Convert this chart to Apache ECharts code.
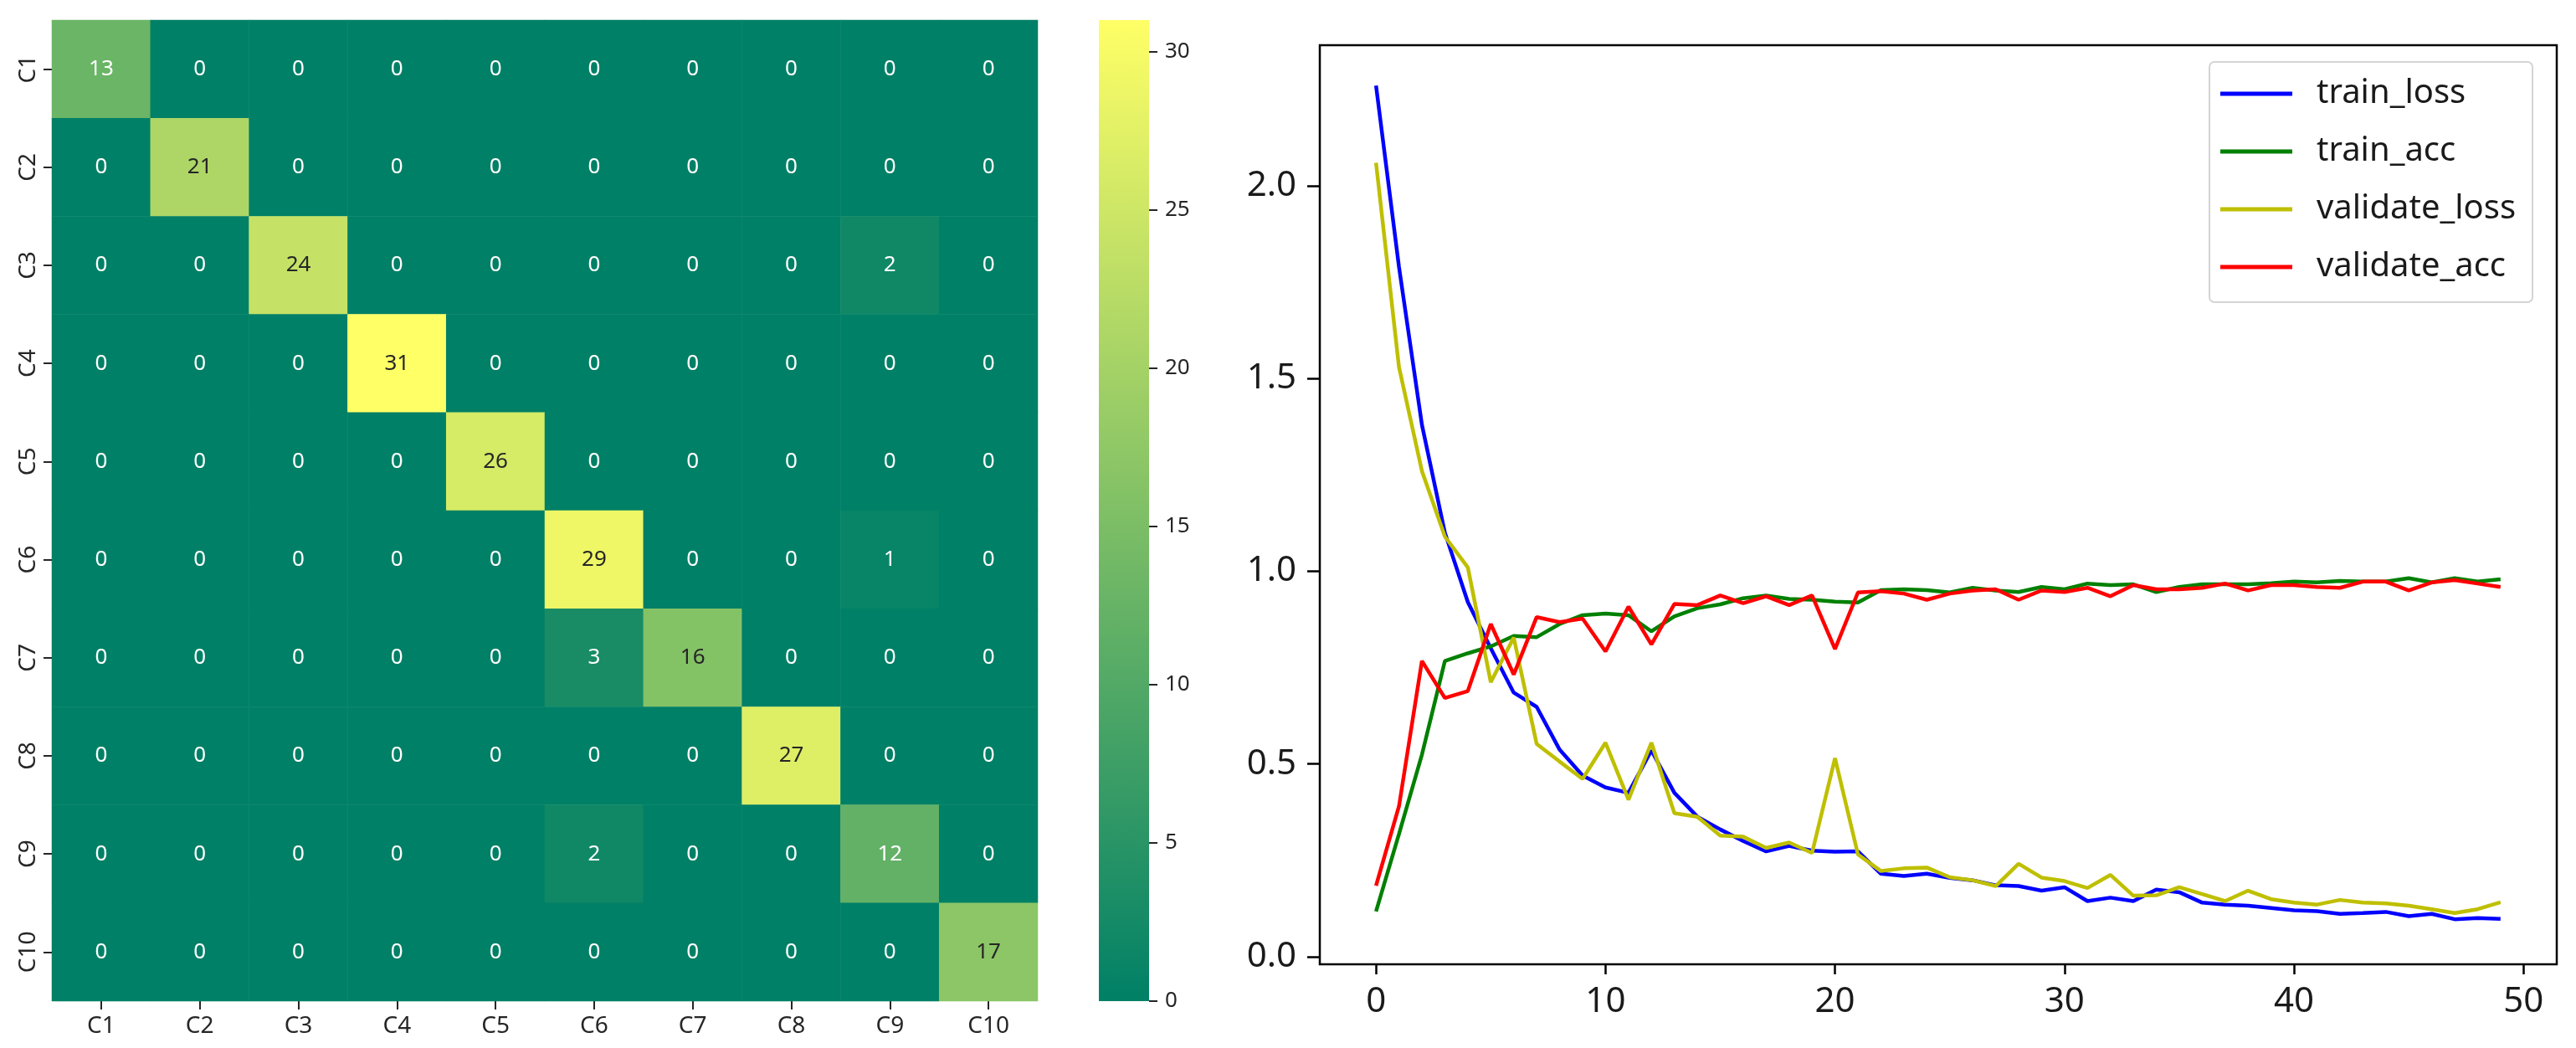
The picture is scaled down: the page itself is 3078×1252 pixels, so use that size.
<!DOCTYPE html>
<html>
<head>
<meta charset="utf-8">
<script src="https://cdn.jsdelivr.net/npm/echarts@6/dist/echarts.min.js"></script>
<style>
html,body{margin:0;padding:0;background:#fff;}
#main{width:3078px;height:1252px;}
</style>
</head>
<body>
<div id="main"></div>
<script>
// ---------- data ----------
const classes = ['C1','C2','C3','C4','C5','C6','C7','C8','C9','C10'];
// rows = true class, columns = predicted class
const confusion = [
  [13,0,0,0,0,0,0,0,0,0],
  [0,21,0,0,0,0,0,0,0,0],
  [0,0,24,0,0,0,0,0,2,0],
  [0,0,0,31,0,0,0,0,0,0],
  [0,0,0,0,26,0,0,0,0,0],
  [0,0,0,0,0,29,0,0,1,0],
  [0,0,0,0,0,3,16,0,0,0],
  [0,0,0,0,0,0,0,27,0,0],
  [0,0,0,0,0,2,0,0,12,0],
  [0,0,0,0,0,0,0,0,0,17]
];
const colorbarMax = 31;
const colorbarTicks = [0,5,10,15,20,25,30];

const epochs = Array.from({length:50}, (_, i) => i);
const trainLoss = [2.26,1.79,1.38,1.10,0.92,0.80,0.685,0.648,0.537,0.47,0.439,0.425,0.535,0.425,0.363,0.33,0.30,0.273,0.287,0.275,0.272,0.273,0.215,0.209,0.215,0.204,
  0.198,0.185,0.183,0.171,0.18,0.144,0.153,0.144,0.174,0.167,0.14,0.135,0.132,0.126,0.12,0.118,0.111,0.113,0.116,0.105,0.111,0.097,0.1,0.098];
const trainAcc = [0.117,0.318,0.524,0.767,0.787,0.805,0.832,0.829,0.863,0.886,0.89,0.886,0.844,0.883,0.904,0.914,0.93,0.937,0.928,0.926,0.921,0.919,0.951,0.953,0.951,0.945,
  0.957,0.95,0.946,0.959,0.953,0.968,0.964,0.966,0.946,0.959,0.966,0.966,0.966,0.969,0.973,0.971,0.975,0.973,0.973,0.982,0.971,0.982,0.973,0.979];
const validateLoss = [2.06,1.53,1.26,1.09,1.01,0.712,0.828,0.552,0.506,0.461,0.555,0.407,0.555,0.372,0.363,0.314,0.311,0.282,0.296,0.269,0.515,0.265,0.222,0.229,0.231,0.206,
  0.198,0.183,0.241,0.205,0.196,0.178,0.212,0.158,0.159,0.18,0.162,0.144,0.171,0.149,0.14,0.135,0.147,0.14,0.138,0.132,0.123,0.113,0.123,0.141];
const validateAcc = [0.184,0.39,0.767,0.671,0.689,0.863,0.732,0.881,0.868,0.877,0.792,0.908,0.81,0.915,0.912,0.937,0.917,0.935,0.912,0.937,0.798,0.945,0.948,0.942,0.926,0.942,
  0.95,0.953,0.926,0.95,0.946,0.957,0.935,0.964,0.953,0.953,0.957,0.968,0.95,0.964,0.964,0.959,0.957,0.973,0.973,0.95,0.971,0.977,0.968,0.959];
const xTicks = [0,10,20,30,40,50];
const yTicks = [0,0.5,1,1.5,2];

// ---------- styling ----------
const FONT = '"Noto Sans", "DejaVu Sans", sans-serif';
const LOW = [0,128,102], HIGH = [255,255,102];
function cmap(v){
  const t = Math.max(0, Math.min(1, v / colorbarMax));
  return LOW.map((c,i)=> c + (HIGH[i]-c)*t);
}
function textColorFor(v){
  const lin = c => { c/=255; return c <= 0.03928 ? c/12.92 : Math.pow((c+0.055)/1.055, 2.4); };
  const [r,g,b] = cmap(v);
  const L = 0.2126*lin(r) + 0.7152*lin(g) + 0.0722*lin(b);
  return L > 0.408 ? '#262626' : '#ffffff';
}

const heatData = [];
confusion.forEach((row, r) => row.forEach((v, c) => {
  heatData.push({ value:[c, r, v], label:{ color: textColorFor(v) } });
}));

const chart = echarts.init(document.getElementById('main'), null, {renderer:'canvas'});

const option = {
  backgroundColor:'#fff',
  animation:false,
  textStyle:{fontFamily:FONT},
  grid:[
    {left:62, top:24, width:1178, height:1172},
    {left:1313, top:24, width:60, height:1172},
    {left:1577, top:54, right:23, bottom:100, show:true, borderColor:'#000', borderWidth:2.5, backgroundColor:'transparent'}
  ],
  xAxis:[
    {gridIndex:0, type:'category', data:classes, position:'bottom',
     axisLine:{show:false}, splitLine:{show:false},
     axisTick:{show:true, alignWithLabel:true, length:10, lineStyle:{color:'#262626', width:2}},
     axisLabel:{fontSize:28, color:'#262626', margin:16, fontFamily:FONT}},
    {gridIndex:1, type:'category', data:[''], show:false},
    {gridIndex:2, type:'value', min:-2.45, max:51.45, position:'bottom',
     axisLine:{show:false, onZero:false}, splitLine:{show:false},
     axisTick:{show:true, customValues:xTicks, length:12, lineStyle:{color:'#000', width:2.5}},
     axisLabel:{customValues:xTicks, fontSize:42, color:'#1a1a1a', margin:24, fontFamily:FONT}}
  ],
  yAxis:[
    {gridIndex:0, type:'category', data:classes, inverse:true,
     axisLine:{show:false}, splitLine:{show:false},
     axisTick:{show:true, alignWithLabel:true, length:10, lineStyle:{color:'#262626', width:2}},
     axisLabel:{fontSize:28, color:'#262626', rotate:90, margin:14, fontFamily:FONT}},
    {gridIndex:1, type:'value', min:0, max:colorbarMax, position:'right',
     axisLine:{show:false}, splitLine:{show:false},
     axisTick:{show:true, customValues:colorbarTicks, length:10, lineStyle:{color:'#262626', width:2}},
     axisLabel:{customValues:colorbarTicks, fontSize:26, color:'#262626', margin:19, fontFamily:FONT}},
    {gridIndex:2, type:'value', min:-0.02, max:2.365, position:'left',
     axisLine:{show:false, onZero:false}, splitLine:{show:false},
     axisTick:{show:true, customValues:yTicks, length:15, lineStyle:{color:'#000', width:2.5}},
     axisLabel:{customValues:yTicks, fontSize:42, color:'#1a1a1a', margin:28, fontFamily:FONT,
       formatter: v => Number(v).toFixed(1)}}
  ],
  visualMap:{
    show:false, seriesIndex:0, min:0, max:colorbarMax, dimension:2,
    inRange:{color:['#008066','#ffff66']}
  },
  legend:{
    left:2640, top:74, orient:'vertical', icon:'rect',
    itemWidth:86, itemHeight:5, itemGap:29,
    padding:[18,20,22,13],
    backgroundColor:'#fff', borderColor:'#d4d4d4', borderWidth:2, borderRadius:6,
    textStyle:{fontSize:40, lineHeight:40, color:'#1a1a1a', fontFamily:FONT, padding:[0,0,0,24]},
    data:['train_loss','train_acc','validate_loss','validate_acc']
  },
  series:[
    {type:'heatmap', xAxisIndex:0, yAxisIndex:0, data:heatData,
     label:{show:true, fontSize:26, fontFamily:FONT, formatter: p => p.value[2]},
     itemStyle:{borderWidth:0},
     emphasis:{disabled:true}},
    {type:'bar', xAxisIndex:1, yAxisIndex:1, data:[colorbarMax], barWidth:'100%',
     itemStyle:{color:new echarts.graphic.LinearGradient(0,0,0,1,[
       {offset:0, color:'#ffff66'},{offset:1, color:'#008066'}])},
     silent:true},
    {name:'train_loss', type:'line', xAxisIndex:2, yAxisIndex:2, showSymbol:false,
     data:epochs.map((e,i)=>[e, trainLoss[i]]), itemStyle:{color:'#0000ff'}, lineStyle:{color:'#0000ff', width:4.5}},
    {name:'train_acc', type:'line', xAxisIndex:2, yAxisIndex:2, showSymbol:false,
     data:epochs.map((e,i)=>[e, trainAcc[i]]), itemStyle:{color:'#008000'}, lineStyle:{color:'#008000', width:4.5}},
    {name:'validate_loss', type:'line', xAxisIndex:2, yAxisIndex:2, showSymbol:false,
     data:epochs.map((e,i)=>[e, validateLoss[i]]), itemStyle:{color:'#bfbf00'}, lineStyle:{color:'#bfbf00', width:4.5}},
    {name:'validate_acc', type:'line', xAxisIndex:2, yAxisIndex:2, showSymbol:false,
     data:epochs.map((e,i)=>[e, validateAcc[i]]), itemStyle:{color:'#ff0000'}, lineStyle:{color:'#ff0000', width:4.5}}
  ]
};
chart.setOption(option);
</script>
</body>
</html>
